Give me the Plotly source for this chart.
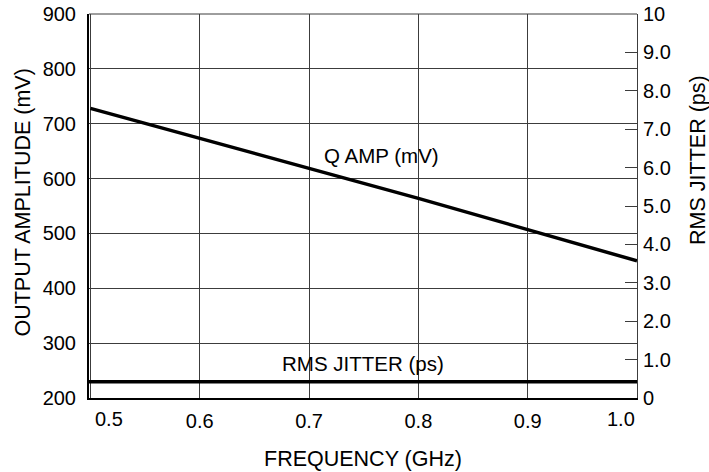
import plotly.graph_objects as go

# Data
freq_ghz = [0.5, 0.6, 0.7, 0.8, 0.9, 1.0]
q_amp_mv = [728, 673, 619, 564, 507, 450]
jitter_freq_ghz = [0.49, 1.0]
rms_jitter_ps = [0.42, 0.42]

x_tickvals = [0.5, 0.6, 0.7, 0.8, 0.9, 1.0]
x_ticktext = ["", "0.6", "0.7", "0.8", "0.9", ""]
x_edge_labels = [(0.5, "0.5", "left", 3), (1.0, "1.0", "right", 0)]
y_tickvals = [200, 300, 400, 500, 600, 700, 800, 900]
y2_tickvals = [0, 1, 2, 3, 4, 5, 6, 7, 8, 9, 10]
y2_ticktext = ["0", "1.0", "2.0", "3.0", "4.0", "5.0", "6.0", "7.0", "8.0", "9.0", "10"]

FONT = "Liberation Sans, Arial, Helvetica, sans-serif"
FS = 20      # tick labels
FL = 20.5    # in-plot labels
FT = 21.5    # axis titles
GRID = "#3c3c3c"

fig = go.Figure()
fig.add_trace(go.Scatter(x=freq_ghz, y=q_amp_mv, mode="lines",
                         line=dict(color="black", width=3.5), yaxis="y",
                         showlegend=False, hoverinfo="skip"))
fig.add_trace(go.Scatter(x=jitter_freq_ghz, y=rms_jitter_ps, mode="lines",
                         line=dict(color="black", width=3.5), yaxis="y2",
                         showlegend=False, hoverinfo="skip"))

annotations = [
    dict(text="Q AMP (mV)", x=0.766, y=642, xref="x", yref="y",
         showarrow=False, font=dict(size=FL)),
    dict(text="RMS JITTER (ps)", x=0.749, y=0.9, xref="x", yref="y2",
         showarrow=False, font=dict(size=FL)),
    dict(text="FREQUENCY (GHz)", x=0.5, y=0, xref="paper", yref="paper",
         xanchor="center", yanchor="middle", yshift=-61,
         showarrow=False, font=dict(size=FT)),
    dict(text="OUTPUT AMPLITUDE (mV)", x=0, y=0.509, xref="paper", yref="paper",
         xanchor="center", yanchor="middle", xshift=-66, textangle=-90,
         showarrow=False, font=dict(size=FT)),
    dict(text="RMS JITTER (ps)", x=1, y=0.62, xref="paper", yref="paper",
         xanchor="center", yanchor="middle", xshift=61, textangle=-90,
         showarrow=False, font=dict(size=FT)),
]
for xv, txt, anchor, dx in x_edge_labels:
    annotations.append(dict(text=txt, x=xv, y=0, xref="x", yref="paper",
                            xanchor=anchor, yanchor="top", yshift=-8, xshift=dx,
                            showarrow=False, font=dict(size=FS)))

fig.update_layout(
    width=709, height=472,
    margin=dict(l=89, r=72, t=14, b=74),
    paper_bgcolor="white", plot_bgcolor="white",
    font=dict(family=FONT, size=FS, color="black"),
    hovermode=False,
    xaxis=dict(range=[0.4987, 1.0], tickvals=x_tickvals, ticktext=x_ticktext,
               showgrid=True, gridcolor=GRID, gridwidth=1,
               showline=True, linecolor="black", linewidth=2,
               ticks="", ticklabelstandoff=4, zeroline=False, automargin=False,
               tickfont=dict(size=FS)),
    yaxis=dict(range=[200, 900], tickvals=y_tickvals,
               showgrid=True, gridcolor=GRID, gridwidth=1,
               showline=True, linecolor="black", linewidth=2,
               ticks="", ticklabelstandoff=7, zeroline=False, automargin=False,
               ticklabeloverflow="allow", tickfont=dict(size=FS)),
    yaxis2=dict(range=[0, 10], tickvals=y2_tickvals, ticktext=y2_ticktext,
                overlaying="y", side="right", showgrid=False,
                showline=True, linecolor=GRID, linewidth=1,
                ticks="inside", ticklen=12, tickcolor=GRID, tickwidth=1,
                ticklabelstandoff=1, zeroline=False, automargin=False,
                ticklabeloverflow="allow", tickfont=dict(size=FS)),
    shapes=[dict(type="line", xref="paper", yref="paper", x0=0, x1=1, y0=1, y1=1,
                 line=dict(color=GRID, width=1))],
    annotations=annotations,
)

fig.write_html("out.html",
               config={"displayModeBar": False, "staticPlot": True},
               post_script="document.body.style.margin='0';document.body.style.overflow='hidden';")
